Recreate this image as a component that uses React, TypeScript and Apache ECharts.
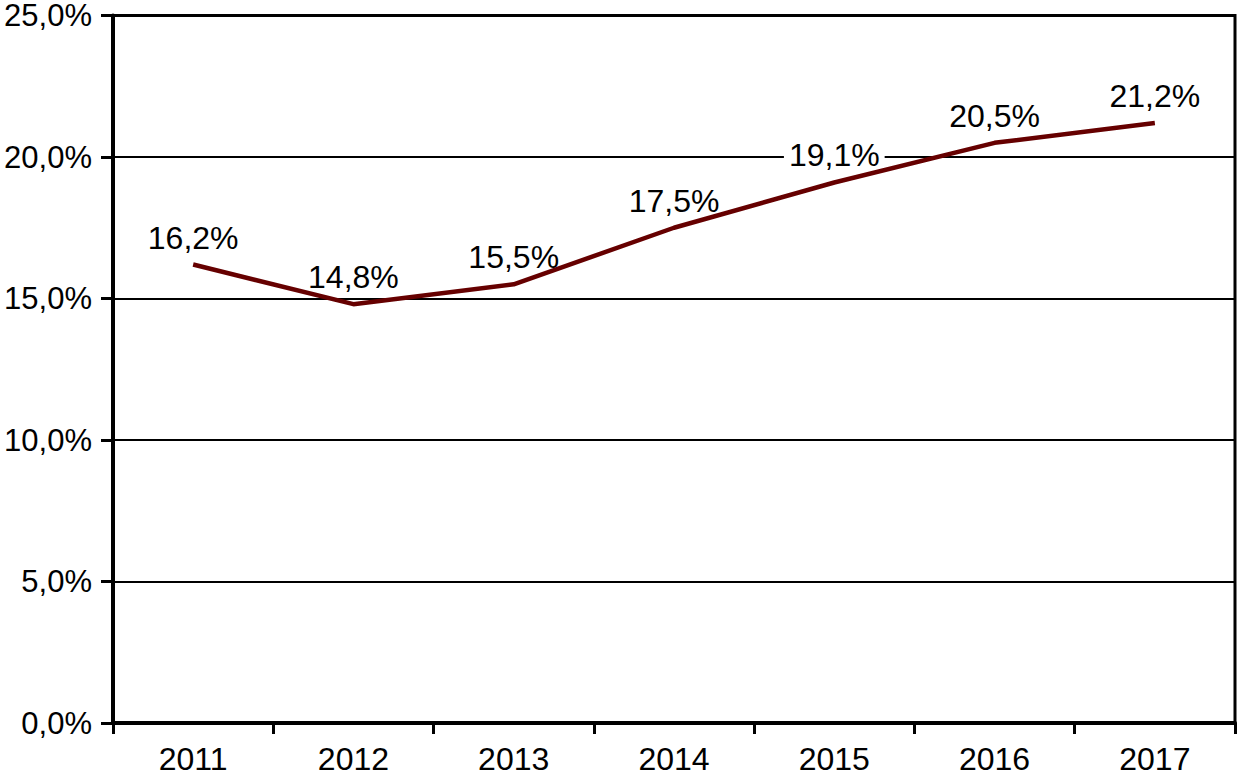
import React, { useEffect, useRef } from "react";
import * as echarts from "echarts";

const years = ["2011", "2012", "2013", "2014", "2015", "2016", "2017"];
const shares = [16.2, 14.8, 15.5, 17.5, 19.1, 20.5, 21.2];

const fmt = (v: number) => v.toFixed(1).replace(".", ",") + "%";

export default function App() {
  const ref = useRef<HTMLDivElement>(null);
  useEffect(() => {
    const chart = echarts.init(ref.current!, null, { renderer: "svg" });
    const font = "'Liberation Sans', Arial, sans-serif";
    chart.setOption({
      animation: false,
      grid: {
        left: 113,
        right: 3,
        top: 15,
        bottom: 58,
        show: true,
        borderColor: "#000",
        borderWidth: 3,
        backgroundColor: "#fff",
      },
      xAxis: {
        type: "category",
        data: years,
        boundaryGap: true,
        axisLine: { show: true, lineStyle: { color: "#000", width: 4 } },
        axisTick: { show: true, length: 11, lineStyle: { color: "#000", width: 3 } },
        axisLabel: { color: "#000", fontSize: 32, fontFamily: font, margin: 20 },
        splitLine: { show: false },
      },
      yAxis: {
        type: "value",
        min: 0,
        max: 25,
        interval: 5,
        axisLine: { show: true, lineStyle: { color: "#000", width: 4 } },
        axisTick: { show: true, length: 12, lineStyle: { color: "#000", width: 3 } },
        axisLabel: {
          color: "#000",
          fontSize: 31,
          lineHeight: 28,
          fontFamily: font,
          margin: 21,
          formatter: (v: number) => fmt(v),
        },
        splitLine: { show: true, lineStyle: { color: "#000", width: 2 } },
      },
      series: [
        {
          type: "scatter",
          data: shares,
          z: 1,
          symbolSize: 0,
          itemStyle: { color: "#fff", opacity: 1 },
          label: {
            show: true,
            position: "top",
            distance: 11,
            color: "#000",
            opacity: 1,
            fontSize: 32,
            fontFamily: font,
            lineHeight: 32,
            backgroundColor: "#fff",
            padding: [0, 5],
            formatter: (p: any) => fmt(p.value),
          },
        },
        {
          type: "line",
          data: shares,
          z: 5,
          symbol: "none",
          lineStyle: { color: "#660000", width: 4.5 },
          itemStyle: { color: "#660000" },
        },
      ],
    });
    return () => chart.dispose();
  }, []);
  return <div ref={ref} style={{ width: 1238, height: 781, position: "absolute", left: 0, top: 0 }} />;
}
